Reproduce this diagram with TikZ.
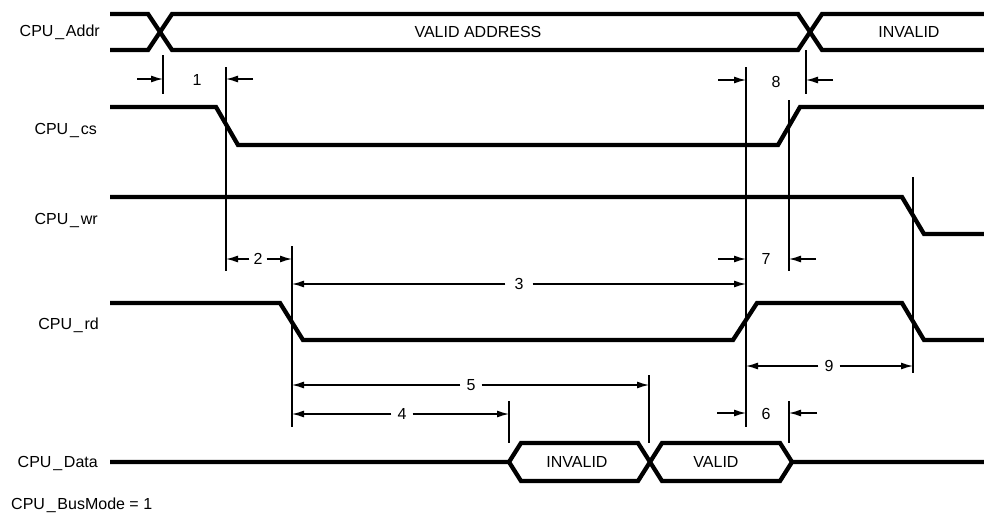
\documentclass[tikz,border=0pt]{standalone}
\usepackage{fontspec}
\setmainfont{Liberation Sans}
\usetikzlibrary{arrows.meta}
\newcommand{\us}{\kern1.8pt\_\kern1.8pt}
\begin{document}
\begin{tikzpicture}[x=1pt,y=-1pt,
  sig/.style={line width=4.3pt, line join=miter},
  ext/.style={line width=1.3pt},
  dim/.style={line width=1.3pt, -{Latex[length=12pt,width=7pt]}},
  lbl/.style={font=\fontsize{16}{18}\selectfont, inner sep=0pt},
  sname/.style={lbl, anchor=east},
  num/.style={lbl, inner xsep=6pt},
]
\useasboundingbox (0,0) rectangle (984,514);

% signal names
\node[sname] (lAddr) at (100,32) {CPU\us Addr};
\node[sname] (lcs) at (97,131) {CPU\us cs};
\node[sname] (lwr) at (98,221) {CPU\us wr};
\node[sname] (lrd) at (99,325) {CPU\us rd};
\node[sname] (lData) at (98,463) {CPU\us Data};
\node[lbl, anchor=west] (lBus) at (11,505) {CPU\us BusMode = 1};

% waveforms
\draw[sig] (110,14) -- (148,14) -- (172,50) -- (798,50) -- (822,14) -- (984,14);
\draw[sig] (110,50) -- (148,50) -- (172,14) -- (798,14) -- (822,50) -- (984,50);
\node[lbl] (tVA) at (478,32) {VALID ADDRESS};
\node[lbl] (tInvA) at (909,32) {INVALID};

\draw[sig] (110,107) -- (216,107) -- (238,145) -- (778,145) -- (800,107) -- (984,107);
\draw[sig] (110,197) -- (902,197) -- (924,234) -- (984,234);
\draw[sig] (110,303) -- (280,303) -- (303,340) -- (733,340) -- (757,303) -- (902,303) -- (924,340) -- (984,340);

\draw[sig] (110,462) -- (509,462) -- (521,443) -- (638,443) -- (662,481) -- (780,481) -- (792,462) -- (984,462);
\draw[sig] (509,462) -- (521,481) -- (638,481) -- (662,443) -- (780,443) -- (792,462);
\node[lbl] (tInvD) at (577,462) {INVALID};
\node[lbl] (tValD) at (716,462) {VALID};

% extension lines
\coordinate (x163a) at (163,55);  \coordinate (x163b) at (163,94);
\coordinate (x226a) at (226,67);  \coordinate (x226b) at (226,271);
\coordinate (x746a) at (746,67);  \coordinate (x746b) at (746,427);
\coordinate (x806a) at (806,50);  \coordinate (x806b) at (806,94);
\coordinate (x789a) at (789,100); \coordinate (x789b) at (789,271);
\coordinate (x292a) at (292,246); \coordinate (x292b) at (292,427);
\coordinate (x913a) at (913,177); \coordinate (x913b) at (913,373);
\coordinate (x649a) at (649,375); \coordinate (x649b) at (649,443);
\coordinate (x509a) at (509,401); \coordinate (x509b) at (509,443);
\coordinate (x789c) at (789,401); \coordinate (x789d) at (789,443);
\foreach \a/\b in {x163a/x163b,x226a/x226b,x746a/x746b,x806a/x806b,x789a/x789b,
  x292a/x292b,x913a/x913b,x649a/x649b,x509a/x509b,x789c/x789d}
  \draw[ext] (\a) -- (\b);

% dimension 1
\coordinate (d1a) at (137,79); \coordinate (d1b) at (163,79);
\coordinate (d1c) at (253,79); \coordinate (d1d) at (226,79);
\draw[dim] (d1a) -- (d1b);
\draw[dim] (d1c) -- (d1d);
\node[lbl] (n1) at (197,80) {1};

% dimension 8
\coordinate (d8a) at (718,80); \coordinate (d8b) at (746,80);
\coordinate (d8c) at (833,80); \coordinate (d8d) at (806,80);
\draw[dim] (d8a) -- (d8b);
\draw[dim] (d8c) -- (d8d);
\node[lbl] (n8) at (776,82) {8};

% dimension 2
\node[lbl, inner xsep=4pt] (n2) at (258,259) {2};
\coordinate (d2l) at (226,259); \coordinate (d2r) at (292,259);
\draw[dim] (n2) -- (d2l);
\draw[dim] (n2) -- (d2r);

% dimension 7
\coordinate (d7a) at (718,259); \coordinate (d7b) at (746,259);
\coordinate (d7c) at (816,259); \coordinate (d7d) at (789,259);
\draw[dim] (d7a) -- (d7b);
\draw[dim] (d7c) -- (d7d);
\node[lbl] (n7) at (766,259) {7};

% dimension 3
\node[lbl, inner xsep=9pt] (n3) at (519,284) {3};
\coordinate (d3l) at (292,284); \coordinate (d3r) at (746,284);
\draw[dim] (n3) -- (d3l);
\draw[dim] (n3) -- (d3r);

% dimension 9
\node[num] (n9) at (829,366) {9};
\coordinate (d9l) at (746,366); \coordinate (d9r) at (913,366);
\draw[dim] (n9) -- (d9l);
\draw[dim] (n9) -- (d9r);

% dimension 5
\node[num] (n5) at (471,385) {5};
\coordinate (d5l) at (292,385); \coordinate (d5r) at (649,385);
\draw[dim] (n5) -- (d5l);
\draw[dim] (n5) -- (d5r);

% dimension 4
\node[num] (n4) at (402,414) {4};
\coordinate (d4l) at (292,414); \coordinate (d4r) at (509,414);
\draw[dim] (n4) -- (d4l);
\draw[dim] (n4) -- (d4r);

% dimension 6
\coordinate (d6a) at (717,413); \coordinate (d6b) at (746,413);
\coordinate (d6c) at (817,413); \coordinate (d6d) at (789,413);
\draw[dim] (d6a) -- (d6b);
\draw[dim] (d6c) -- (d6d);
\node[lbl] (n6) at (766,414) {6};
\end{tikzpicture}
\end{document}
